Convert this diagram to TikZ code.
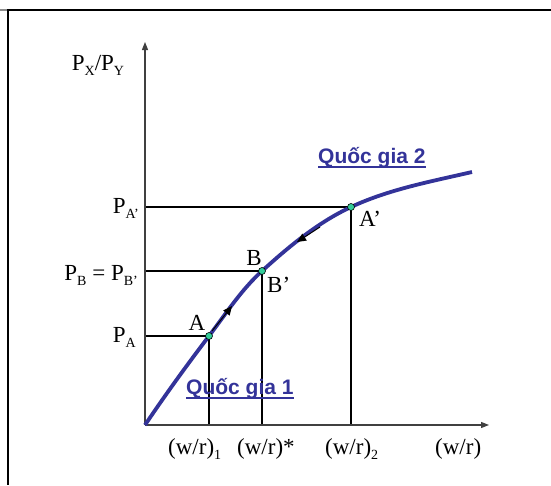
\documentclass[tikz,border=0pt]{standalone}
\usepackage{fontspec}
\setmainfont{Liberation Serif}
\setsansfont{Liberation Sans}
\usetikzlibrary{arrows.meta}
\definecolor{cblue}{HTML}{333399}
\definecolor{cdot}{HTML}{33CC99}
\newcommand\sbs[1]{\raisebox{-0.24em}{\fontsize{14}{14}\selectfont #1}}
\tikzset{
  lbl/.style={font=\fontsize{23}{26}\selectfont, inner sep=0pt},
  country/.style={font=\fontsize{21}{24}\selectfont\sffamily\bfseries, text=cblue, inner sep=0pt},
  guide/.style={line width=1.6pt, black},
  axis/.style={line width=1.2pt, black!75, -{Triangle[length=8pt,width=6pt]}},
  curve/.style={line width=3.8pt, cblue},
  pt/.style={circle, draw=black, line width=0.6pt, fill=cdot, minimum size=7pt, inner sep=0pt},
  flow/.style={line width=1pt, black, -{Triangle[length=9pt,width=8pt]}},
  frame/.style={line width=2pt, black}
}
\begin{document}
\begin{tikzpicture}[x=1pt,y=-1pt]
\useasboundingbox (0,0) rectangle (551,485);
% frame
\draw[line width=2pt, black!45] (0,10) -- (8,10);
\draw[frame] (551,10) -- (8,10) -- (8,485);
% coordinates
\coordinate (O) at (145,425);
\coordinate (Ytop) at (145,42);
\coordinate (Xend) at (489,425);
\coordinate (A) at (209,336);
\coordinate (B) at (262,271);
\coordinate (Ap) at (351,207);
\coordinate (E) at (472,172);
\coordinate (Ay) at (145,336);
\coordinate (By) at (145,271);
\coordinate (Apy) at (145,207);
\coordinate (Ax) at (209,425);
\coordinate (Bx) at (262,425);
\coordinate (Apx) at (351,425);
% guides
\draw[guide] (Ay) -- (A) -- (Ax);
\draw[guide] (By) -- (B) -- (Bx);
\draw[guide] (Apy) -- (Ap) -- (Apx);
% axes
\draw[axis] (O) -- (Ytop);
\draw[axis] (O) -- (Xend);
% curve
\draw[curve] (O) .. controls (165.7,394.3) and (186.6,365.5) .. (A)
  .. controls (225.9,313.7) and (241.3,289.8) .. (B)
  .. controls (289.1,246.4) and (317.8,222.5) .. (Ap)
  .. controls (389.1,189.2) and (431.1,181.5) .. (E);
% flow arrows
\coordinate (f1s) at (212,331);
\coordinate (f1e) at (232,306);
\coordinate (f2s) at (320,227);
\coordinate (f2e) at (297,242);
\draw[flow] (f1s) -- (f1e);
\draw[flow] (f2s) -- (f2e);
% points
\node[pt] (dA) at (A) {};
\node[pt] (dB) at (B) {};
\node[pt] (dAp) at (Ap) {};
% axis labels
\node[lbl, anchor=base] (ylab) at (98,70) {P\sbs{X}/P\sbs{Y}};
\node[lbl, anchor=base east] (lApy) at (139,213) {P\sbs{A’}};
\node[lbl, anchor=base east] (lBy) at (138,280) {P\sbs{B} = P\sbs{B’}};
\node[lbl, anchor=base east] (lAy) at (136,342) {P\sbs{A}};
\node[lbl, anchor=base west] (lx1) at (168,454) {(w/r)\sbs{1}};
\node[lbl, anchor=base west] (lxs) at (237,454) {(w/r)*};
\node[lbl, anchor=base west] (lx2) at (325,454) {(w/r)\sbs{2}};
\node[lbl, anchor=base west] (lx) at (435,454) {(w/r)};
% point labels
\node[lbl, anchor=base] (tA) at (197,330) {A};
\node[lbl, anchor=base] (tB) at (254,265) {B};
\node[lbl, anchor=base west] (tBp) at (267,292) {B’};
\node[lbl, anchor=base west] (tAp) at (359,226) {A’};
% countries
\node[country, anchor=base west] (q1) at (186,394) {Quốc gia 1};
\node[country, anchor=base west] (q2) at (318,163) {Quốc gia 2};
\draw[cblue, line width=1.5pt] ([yshift=-4pt]q1.base west) -- ([yshift=-4pt]q1.base east);
\draw[cblue, line width=1.5pt] ([yshift=-4pt]q2.base west) -- ([yshift=-4pt]q2.base east);
\end{tikzpicture}
\end{document}
